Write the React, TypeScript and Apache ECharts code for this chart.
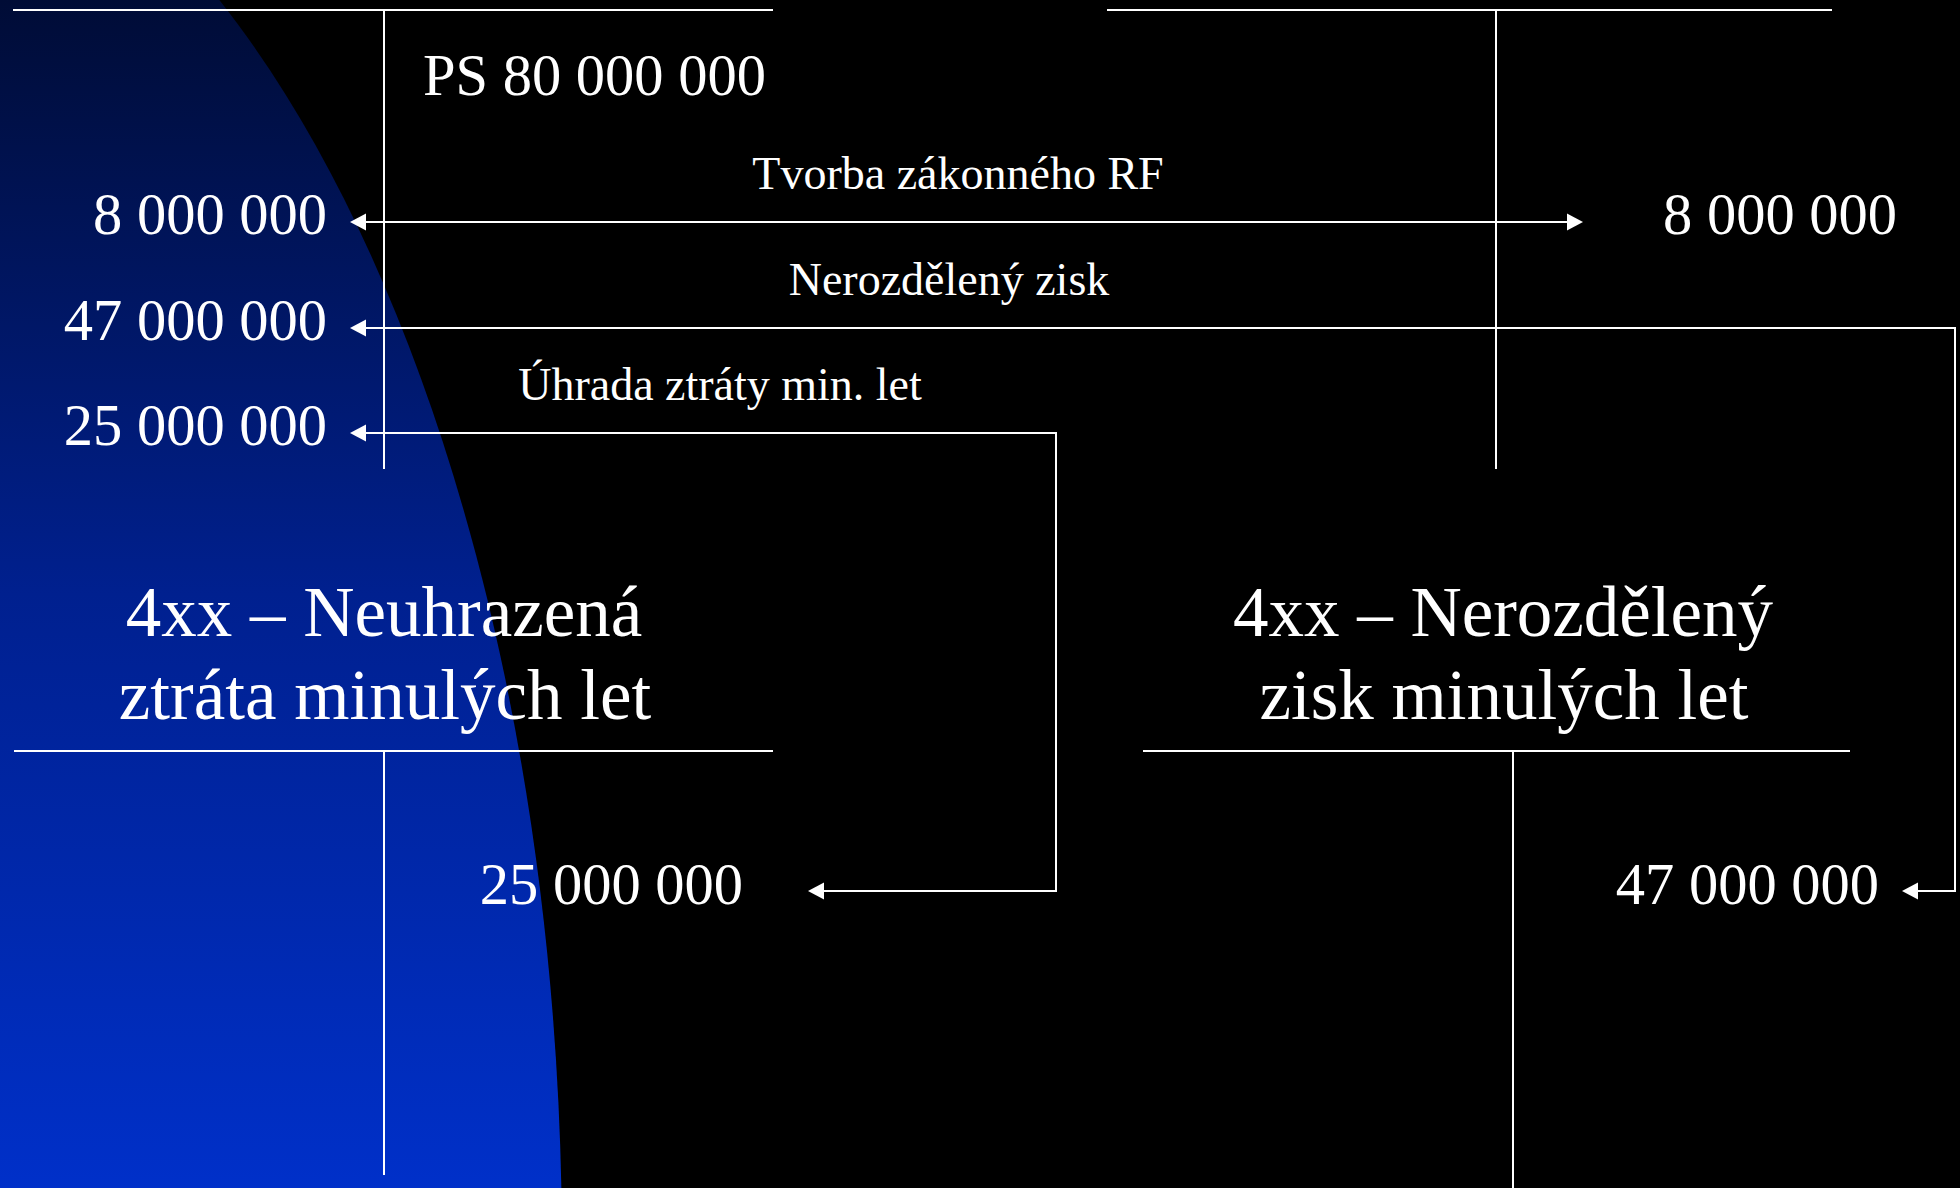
import React, { useEffect, useRef } from "react";
import * as echarts from "echarts";

// ---- data ----
const openingBalance = 80000000;
const transferLabels = ["Tvorba zákonného RF", "Nerozdělený zisk", "Úhrada ztráty min. let"];
const transferAmounts = [8000000, 47000000, 25000000];
const accountTitles = [
  ["4xx – Neuhrazená", "ztráta minulých let"],
  ["4xx – Nerozdělený", "zisk minulých let"],
];

const fmt = (n: number) => String(n).replace(/\B(?=(\d{3})+(?!\d))/g, " ");

// ---- layout ----
const W = 1960;
const H = 1188;
const FONT = '"Liberation Serif", "Times New Roman", serif';
const WHITE = "#ffffff";
const LW = 2;
const AH_LEN = 16;
const AH_HALF = 8.5;
const VAL_SIZE = 58.5;
const LABEL_SIZE = 46;
const TITLE_SIZE = 71;

function arrowHead(tipX: number, tipY: number, dir: "left" | "right") {
  const bx = dir === "left" ? tipX + AH_LEN : tipX - AH_LEN;
  return {
    type: "polygon",
    shape: { points: [[tipX, tipY], [bx, tipY - AH_HALF], [bx, tipY + AH_HALF]] },
    style: { fill: WHITE },
    silent: true,
  };
}

function line(x1: number, y1: number, x2: number, y2: number) {
  return {
    type: "line",
    shape: { x1, y1, x2, y2 },
    style: { stroke: WHITE, lineWidth: LW },
    silent: true,
  };
}

function polyline(points: number[][]) {
  return {
    type: "polyline",
    shape: { points },
    style: { stroke: WHITE, lineWidth: LW, fill: null },
    silent: true,
  };
}

function text(t: string, x: number, y: number, size: number, align: string) {
  return {
    type: "text",
    x,
    y,
    style: {
      text: t,
      fill: WHITE,
      fontSize: size,
      fontFamily: FONT,
      align,
      verticalAlign: "middle",
    },
    silent: true,
  };
}

export default function App() {
  const ref = useRef<HTMLDivElement>(null);

  useEffect(() => {
    document.body.style.margin = "0";
    document.body.style.overflow = "hidden";
    if (!ref.current) return;
    const chart = echarts.init(ref.current, null, { renderer: "svg" });

    const leftTx = 384;
    const rightTx = 1496;
    const arrowTipL = 350;
    const rowY = [222, 328, 433];
    const valY = [214, 320, 425];
    const lowY = 891;
    const lowValY = 884;

    const elements: any[] = [
      // background: large blue ellipse on the left with vertical gradient
      {
        type: "ellipse",
        shape: { cx: -166, cy: 1250, rx: 728, ry: 1473 },
        style: {
          fill: new echarts.graphic.LinearGradient(
            0, 0, 0, H,
            [
              { offset: 0, color: "#000c36" },
              { offset: 0.5, color: "#00208f" },
              { offset: 1, color: "#0030c9" },
            ],
            true
          ),
        },
        silent: true,
        z: 0,
      },
      // top-left T account
      line(13, 10, 773, 10),
      line(leftTx, 10, leftTx, 469),
      // top-right T account
      line(1107, 10, 1832, 10),
      line(rightTx, 10, rightTx, 469),
      // bottom-left T account
      line(14, 751, 773, 751),
      line(leftTx, 751, leftTx, 1175),
      // bottom-right T account
      line(1143, 751, 1850, 751),
      line(1513, 751, 1513, H),

      text("PS " + fmt(openingBalance), 423, 75, VAL_SIZE, "left"),

      // left side amounts
      text(fmt(transferAmounts[0]), 327, valY[0], VAL_SIZE, "right"),
      text(fmt(transferAmounts[1]), 327, valY[1], VAL_SIZE, "right"),
      text(fmt(transferAmounts[2]), 327, valY[2], VAL_SIZE, "right"),

      // transfer labels
      text(transferLabels[0], 958, 173, LABEL_SIZE, "center"),
      text(transferLabels[1], 949, 279, LABEL_SIZE, "center"),
      text(transferLabels[2], 720, 384, LABEL_SIZE, "center"),

      // arrow 1: double-headed
      line(arrowTipL + 4, rowY[0], 1583 - 4, rowY[0]),
      arrowHead(arrowTipL, rowY[0], "left"),
      arrowHead(1583, rowY[0], "right"),
      text(fmt(transferAmounts[0]), 1897, valY[0], VAL_SIZE, "right"),

      // arrow 2: to right account
      polyline([[arrowTipL + 4, rowY[1]], [1955, rowY[1]], [1955, lowY], [1906, lowY]]),
      arrowHead(arrowTipL, rowY[1], "left"),
      arrowHead(1902, lowY, "left"),

      // arrow 3: to left account
      polyline([[arrowTipL + 4, rowY[2]], [1056, rowY[2]], [1056, lowY], [812, lowY]]),
      arrowHead(arrowTipL, rowY[2], "left"),
      arrowHead(808, lowY, "left"),

      // lower amounts
      text(fmt(transferAmounts[2]), 743, lowValY, VAL_SIZE, "right"),
      text(fmt(transferAmounts[1]), 1879, lowValY, VAL_SIZE, "right"),

      // account titles
      text(accountTitles[0][0], 384, 612, TITLE_SIZE, "center"),
      text(accountTitles[0][1], 385, 695, TITLE_SIZE, "center"),
      text(accountTitles[1][0], 1503, 612, TITLE_SIZE, "center"),
      text(accountTitles[1][1], 1504, 695, TITLE_SIZE, "center"),
    ];

    chart.setOption({
      animation: false,
      backgroundColor: "#000000",
      graphic: { elements },
    });

    return () => chart.dispose();
  }, []);

  return <div ref={ref} style={{ width: W, height: H, position: "fixed", left: 0, top: 0 }} />;
}
